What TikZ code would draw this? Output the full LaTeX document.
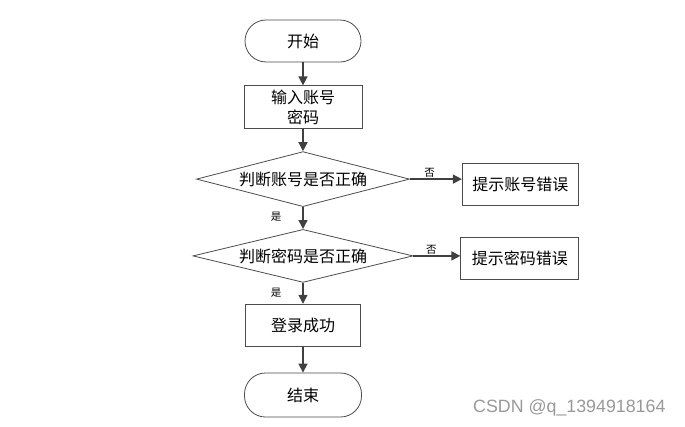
\documentclass[tikz,border=0pt]{standalone}
\usepackage{fontspec}
\setmainfont{Noto Sans CJK SC}
\newfontfamily\wmfont{Liberation Sans}
\usetikzlibrary{arrows.meta,positioning,shapes.geometric}
\tikzset{
  box/.style   = {rectangle, draw=black!70, fill=white, line width=0.8pt,
                  minimum height=42pt, minimum width=116pt,
                  align=center, font=\fontsize{16}{20}\selectfont, inner sep=3pt},
  termbox/.style = {box, rounded corners=21pt},
  decbox/.style  = {diamond, draw=black!70, line width=0.8pt, aspect=3.9,
                    minimum width=213pt, minimum height=55pt, inner sep=0pt,
                    font=\fontsize{16}{20}\selectfont},
  lab/.style   = {font=\fontsize{10.5}{12}\selectfont, inner sep=1pt},
  ar/.style    = {-{Triangle[length=9pt,width=9pt]}, draw=black!75, line width=1.4pt}
}
\begin{document}
\begin{tikzpicture}[x=1pt, y=1pt, node distance=22pt and 50pt]
  \useasboundingbox (0,0) rectangle (685,-426);
  \node[termbox] (start) at (303,-41) {开始};
  \node[box, below=23pt of start, minimum width=118pt, minimum height=43pt] (inp) {输入账号\\密码};
  \node[decbox, below=of inp] (chkacc) {判断账号是否正确};
  \node[box, right=52pt of chkacc, yshift=-5pt] (erracc) {提示账号错误};
  \node[decbox, below=of chkacc, minimum width=220pt, minimum height=53pt] (chkpwd) {判断密码是否正确};
  \node[box, right=47pt of chkpwd, yshift=-2pt, minimum width=118pt] (errpwd) {提示密码错误};
  \node[box, below=21pt of chkpwd, minimum width=115pt] (ok) {登录成功};
  \node[termbox, below=26pt of ok, minimum width=117pt, minimum height=44pt] (stop) {结束};
  \node[anchor=east, text=black!40, font=\wmfont\fontsize{17.8}{20}\selectfont] (wm) at (669,-408) {CSDN @q\_1394918164};
  \draw[ar] (start) -- (inp);
  \draw[ar] (inp) -- (chkacc);
  \draw[ar] (chkacc.east) -- node[lab, above, pos=0.38] {否} (chkacc.east -| erracc.west);
  \draw[ar] (chkacc) -- node[lab, left=20pt, pos=0.45] {是} (chkpwd);
  \draw[ar] (chkpwd.east) -- node[lab, above, pos=0.38] {否} (chkpwd.east -| errpwd.west);
  \draw[ar] (chkpwd) -- node[lab, left=20pt, pos=0.45] {是} (ok);
  \draw[ar] (ok) -- (stop);
\end{tikzpicture}
\end{document}
